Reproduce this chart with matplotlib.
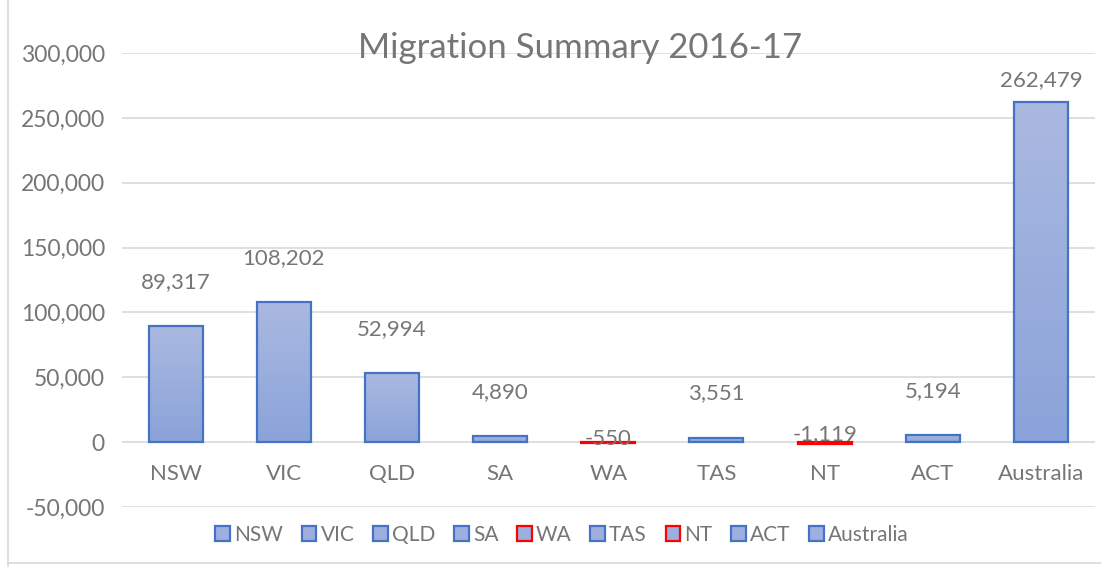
import numpy as np
import matplotlib.pyplot as plt
from matplotlib.patches import Patch
from matplotlib.ticker import FuncFormatter

plt.rcParams['font.family'] = ['Lato', 'DejaVu Sans']

# --- data ---
regions = ['NSW', 'VIC', 'QLD', 'SA', 'WA', 'TAS', 'NT', 'ACT', 'Australia']
migration = [89317, 108202, 52994, 4890, -550, 3551, -1119, 5194, 262479]
y_ticks = [-50000, 0, 50000, 100000, 150000, 200000, 250000, 300000]

text_grey = '#767676'
blue_edge = '#4472C4'
red_edge = '#FF0000'
grad_top = np.array([0.667, 0.725, 0.878])   # lighter blue at the top
grad_bottom = np.array([0.545, 0.639, 0.855])  # deeper blue at the base

fig = plt.figure(figsize=(11.01, 5.67), dpi=100)
ax = fig.add_axes([0.1105, 0.1058, 0.884, 0.8007])

x = np.arange(len(regions))
width = 0.5

# gradient fill, then outline on top
grad = np.linspace(0, 1, 256)[:, None]
cmap_img = grad_top[None, None, :] * (1 - grad[:, :, None]) + grad_bottom[None, None, :] * grad[:, :, None]
for xi, v in zip(x, migration):
    lo, hi = min(0, v), max(0, v)
    ax.imshow(cmap_img, extent=[xi - width / 2, xi + width / 2, lo, hi],
              aspect='auto', zorder=2, interpolation='bilinear')
edges = [red_edge if v < 0 else blue_edge for v in migration]
ax.bar(x, migration, width=width, facecolor='none', edgecolor=edges,
       linewidth=1.6, zorder=3)

ax.set_xlim(-0.5, len(regions) - 0.5)
ax.set_ylim(-50000, 300000)
ax.set_yticks(y_ticks)
ax.yaxis.set_major_formatter(FuncFormatter(lambda v, p: f'{int(v):,}'))
ax.tick_params(axis='y', length=0, labelsize=16.5, labelcolor=text_grey, pad=12)
ax.set_xticks([])
ax.grid(axis='y', color='#D9D9D9', linewidth=1.2, zorder=0)
ax.set_axisbelow(True)
for s in ax.spines.values():
    s.set_visible(False)

# category labels sit just below the zero line
for xi, name in zip(x, regions):
    ax.annotate(name, (xi, 0), xytext=(0, -32), textcoords='offset pixels',
                ha='center', va='center', fontsize=16, color=text_grey)

# value labels above the bars (negatives sit on the zero line)
for xi, v in zip(x, migration):
    if v >= 0:
        ly = min(v + 34000, 279000)
        off = 0
    else:
        ly = 0
        off = 3 if v > -1000 else 8
    ax.annotate(f'{v:,}', (xi, ly), xytext=(0, off), textcoords='offset pixels',
                ha='center', va='center', fontsize=16, color=text_grey, zorder=4)

fig.text(580 / 1101, 1 - 48 / 567, 'Migration Summary 2016-17',
         ha='center', va='center', fontsize=25, color=text_grey)

# legend along the bottom
handles = [Patch(facecolor='#9DAFDF', edgecolor=e, linewidth=1.6, label=r)
           for r, e in zip(regions, edges)]
fig.legend(handles=handles, loc='center', bbox_to_anchor=(562 / 1101, 1 - 535 / 567),
           ncol=len(regions), frameon=False, fontsize=15, labelcolor=text_grey,
           handlelength=0.7, handleheight=0.7, handletextpad=0.2,
           columnspacing=0.9, borderaxespad=0)

# chart area border (left and bottom visible)
fig.add_artist(plt.Line2D([8 / 1101, 8 / 1101], [0.0, 1.0], color='#D9D9D9',
                          linewidth=1.2, transform=fig.transFigure))
fig.add_artist(plt.Line2D([8 / 1101, 1.0], [4 / 567, 4 / 567], color='#D9D9D9',
                          linewidth=1.2, transform=fig.transFigure))

fig.savefig('out.png', dpi=100)
